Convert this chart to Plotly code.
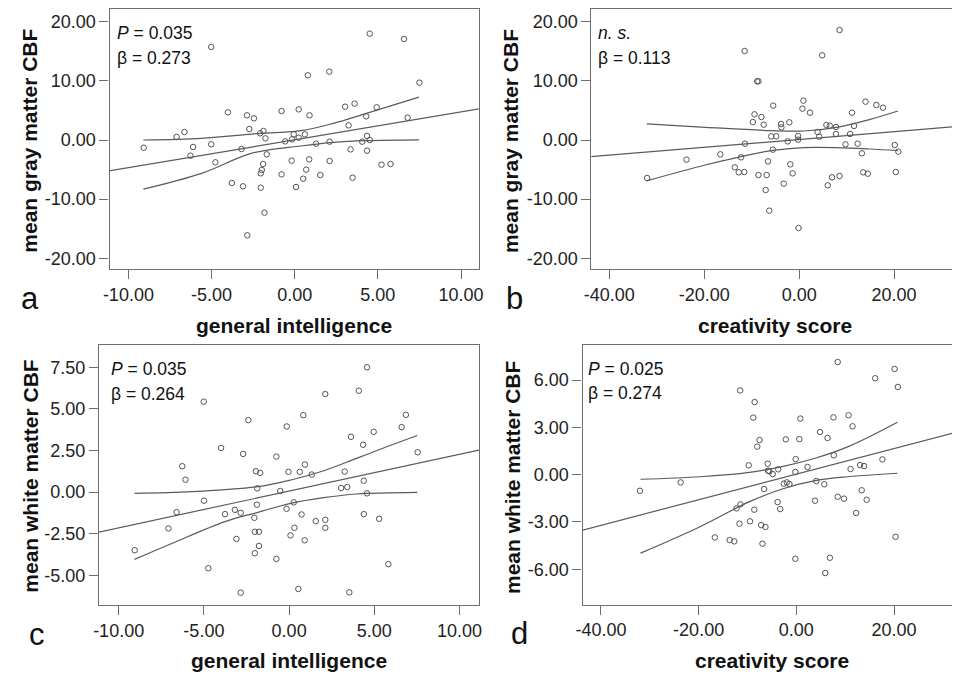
import plotly.graph_objects as go

# ---------------- data ----------------
# Panel a: general intelligence vs mean gray matter CBF
a_x = [-9.08, -7.10, -6.63, -6.27, -6.11, -5.02, -5.02, -4.77, -4.02, -3.78, -3.20, -3.11,
       -2.87, -2.85, -2.73, -2.45, -2.08, -1.88, -2.04, -1.98, -1.90, -2.04, -1.76, -1.68,
       -1.82, -0.79, -0.79, -0.57, -0.18, -0.16, -0.06, 0.08, 0.24, 0.24, 0.51, 0.61, 0.69,
       0.79, 0.87, 0.89, 1.29, 1.54, 2.08, 2.10, 2.10, 3.03, 3.24, 3.36, 3.48, 3.60, 4.06,
       4.30, 4.35, 4.35, 4.51, 4.51, 4.93, 5.22, 5.76, 6.57, 6.79, 7.50]
a_y = [-1.30, 0.51, 1.35, -2.65, -1.18, 15.72, -0.73, -3.77, 4.68, -7.27, -1.52, -7.83,
       4.17, -16.11, 1.86, 3.66, 1.13, 1.52, -5.63, -5.07, -4.06, -8.06, 0.28, -2.42,
       -12.28, 4.90, -5.80, -0.23, -3.49, 0.11, 0.96, -7.94, 0.39, 5.18, -6.54, 0.96, -5.01,
       10.93, -3.27, 4.17, -0.62, -5.92, 11.55, -0.28, -3.55, 5.63, 2.48, -1.58, -6.37, 6.14,
       -0.28, 4.00, 0.68, -1.80, 17.97, 0.00, 5.52, -4.17, -4.06, 17.07, 3.77, 9.69]
a_fit_x = [-11.2, 11.2]
a_fit_y = [-5.25, 5.32]
a_up_x = [-9.1, -5.6, -2.6, 0.36, 2.33, 4.31, 7.47]
a_up_y = [0.00, 0.28, 1.01, 1.58, 2.82, 4.51, 7.25]
a_lo_x = [-9.1, -5.6, -2.6, 0.36, 2.33, 4.31, 7.47]
a_lo_y = [-8.30, -5.63, -2.25, -1.01, -0.39, -0.11, 0.02]

# Panel b: creativity score vs mean gray matter CBF
b_x = [-32.04, -23.74, -16.61, -13.56, -12.73, -12.25, -11.56, -11.42, -11.49, -9.76, -9.41,
       -8.86, -8.58, -8.58, -7.96, -7.47, -7.06, -6.85, -6.57, -6.30, -5.88, -5.54, -5.47,
       -4.84, -3.81, -3.74, -3.25, -2.42, -2.08, -1.87, -1.38, -0.21, -0.21, -0.14, 0.69,
       0.90, 2.28, 3.88, 4.22, 4.84, 5.74, 6.02, 6.44, 6.92, 7.75, 7.75, 8.51, 8.51, 9.76,
       10.73, 11.14, 11.56, 12.32, 13.22, 13.49, 13.98, 14.46, 16.26, 17.65, 20.14, 20.35, 20.90]
b_y = [-6.42, -3.32, -2.42, -4.62, -5.46, -2.93, -5.41, -0.62, 15.04, 3.04, 4.34,
       9.92, 9.92, -5.92, 3.89, 2.59, -8.45, -5.92, -3.61, -11.94, 0.62, -1.63, 5.80,
       0.62, 2.70, 2.14, -7.38, -0.23, 2.99, -4.11, -5.63, 0.68, 0.06, -14.87, 5.30,
       6.65, 4.62, 1.35, 0.56, 14.31, 2.54, -7.66, 2.42, -6.31, 2.20, 1.01, 18.59, -6.08, -0.73,
       1.01, 4.62, 2.37, -0.62, -2.25, -5.46, 6.48, -5.69, 5.92, 5.46, -0.85, -5.41, -1.97]
b_fit_x = [-44.0, 32.5]
b_fit_y = [-2.82, 2.24]
b_up_x = [-32.1, -19.8, -5.96, 0.97, 7.9, 14.8, 20.8]
b_up_y = [2.72, 2.15, 1.58, 1.52, 2.15, 3.45, 4.90]
b_lo_x = [-32.1, -19.8, -12.9, -5.96, 0.97, 7.9, 14.8, 20.8]
b_lo_y = [-6.90, -4.23, -2.93, -1.80, -1.29, -1.29, -1.52, -1.80]

# Panel c: general intelligence vs mean white matter CBF
c_x = [-9.06, -7.08, -6.60, -6.27, -6.08, -5.01, -4.99, -4.74, -3.99, -3.76, -3.18, -3.09,
       -2.84, -2.84, -2.70, -2.39, -2.04, -2.01, -2.01, -1.95, -1.89, -1.87, -1.77, -1.77,
       -1.70, -0.75, -0.75, -0.52, -0.15, -0.14, -0.04, 0.08, 0.27, 0.31, 0.54, 0.62, 0.73,
       0.83, 0.91, 0.93, 1.33, 1.56, 2.12, 2.12, 2.12, 3.05, 3.26, 3.41, 3.53, 3.63, 4.09,
       4.34, 4.38, 4.38, 4.57, 4.57, 4.96, 5.28, 5.82, 6.60, 6.85, 7.54]
c_y = [-3.50, -2.19, -1.21, 1.55, 0.74, 5.43, -0.52, -4.58, 2.65, -1.33, -1.07, -2.82,
       -1.25, -6.05, 2.29, 4.32, -1.55, -2.39, -3.68, 1.25, -0.76, 0.22, -2.39, -3.24,
       1.15, 2.13, -4.02, 0.06, -1.01, 3.94, 1.21, -2.61, -0.62, -2.15, -5.83, 1.21, -1.35,
       4.62, -2.90, 1.65, 1.05, -1.75, 5.89, -1.67, -2.15, 0.24, 1.23, 0.30, -6.03, 3.32, 6.09,
       2.84, 0.68, -1.33, 7.50, -0.08, 3.62, -1.61, -4.34, 3.90, 4.64, 2.39]
c_fit_x = [-11.2, 11.2]
c_fit_y = [-2.42, 2.53]
c_up_x = [-9.07, -5.69, -1.83, 0.10, 2.03, 3.95, 5.88, 7.52]
c_up_y = [-0.08, 0.02, 0.32, 0.72, 1.28, 2.02, 2.78, 3.40]
c_lo_x = [-9.07, -6.85, -3.76, -1.83, 0.10, 2.03, 3.95, 7.52]
c_lo_y = [-4.05, -3.08, -1.78, -1.22, -0.68, -0.34, -0.12, -0.02]

# Panel d: creativity score vs mean white matter CBF
d_x = [-32.01, -23.67, -16.68, -13.65, -12.71, -12.24, -11.63, -11.50, -11.43, -9.75, -9.48,
       -8.81, -8.54, -8.61, -8.00, -7.53, -7.20, -6.93, -6.59, -6.32, -5.85, -5.78, -5.51,
       -4.84, -3.83, -3.70, -3.30, -2.56, -2.15, -1.95, -1.41, -0.20, -0.20, -0.13, 0.61,
       0.81, 2.29, 3.83, 4.10, 4.84, 5.72, 5.92, 6.39, 6.86, 7.60, 7.67, 8.47, 8.47, 9.75,
       10.69, 11.10, 11.50, 12.24, 13.05, 13.38, 13.85, 14.39, 16.14, 17.62, 20.11, 20.31, 20.78]
d_y = [-1.02, -0.49, -3.98, -4.15, -4.23, -2.14, -3.11, 5.35, -1.88, 0.59, -2.96,
       3.62, 4.61, -2.22, 1.78, 2.20, -3.20, -4.38, -0.91, -3.32, 0.70, 0.25, 0.21,
       0.04, -1.74, 0.34, -2.18, -0.57, 2.24, -0.49, -0.59, -5.33, 0.17, 0.99, 2.26,
       3.56, 0.49, -1.65, -0.40, 2.71, -0.61, -6.24, 2.33, -5.27, 3.64, 1.23, 7.15, -1.40, -1.52,
       3.77, 0.36, 3.07, -2.43, 0.61, -0.99, 0.55, -1.59, 6.12, 0.97, 6.71, -3.94, 5.57]
d_fit_x = [-44.0, 32.0]
d_fit_y = [-3.54, 2.64]
d_up_x = [-31.9, -19.7, -9.6, -2.9, 3.83, 10.6, 20.7]
d_up_y = [-0.29, -0.13, 0.15, 0.51, 1.04, 1.78, 3.33]
d_lo_x = [-31.9, -19.7, -9.6, -2.9, 3.83, 10.6, 20.7]
d_lo_y = [-4.98, -3.30, -1.71, -0.91, -0.38, -0.13, 0.09]

# tick labels
gi_ticks = [-10, -5, 0, 5, 10]
gi_text = ["-10.00", "-5.00", "0.00", "5.00", "10.00"]
cs_ticks = [-40, -20, 0, 20]
cs_text = ["-40.00", "-20.00", "0.00", "20.00"]
gm_ticks = [20, 10, 0, -10, -20]
gm_text = ["20.00", "10.00", "0.00", "-10.00", "-20.00"]
wmc_ticks = [7.5, 5, 2.5, 0, -2.5, -5]
wmc_text = ["7.50", "5.00", "2.50", "0.00", "-2.50", "-5.00"]
wmd_ticks = [6, 3, 0, -3, -6]
wmd_text = ["6.00", "3.00", "0.00", "-3.00", "-6.00"]

stats_a = ["<i>P</i> = 0.035", "β = 0.273"]
stats_b = ["<i>n. s.</i>", "β = 0.113"]
stats_c = ["<i>P</i> = 0.035", "β = 0.264"]
stats_d = ["<i>P</i> = 0.025", "β = 0.274"]

# ---------------- figure ----------------
W, H = 957, 674
def px(x):
    return x / W
def py(y):
    return 1 - y / H

FONT = "Liberation Sans, Arial, sans-serif"
MK = "#555555"
LN = "#5a5a5a"
FR = "#6e6e6e"

fig = go.Figure()

panels = [
    ("1", a_x, a_y, (a_fit_x, a_fit_y), (a_up_x, a_up_y), (a_lo_x, a_lo_y),
     (103, 477.3, 9, 269.3), [-11.13, 11.07], [-21.85, 22.14], (gi_ticks, gi_text), (gm_ticks, gm_text), True),
    ("2", b_x, b_y, (b_fit_x, b_fit_y), (b_up_x, b_up_y), (b_lo_x, b_lo_y),
     (591.5, 957, 9, 269.3), [-43.76, 32.2], [-21.85, 22.14], (cs_ticks, cs_text), (gm_ticks, gm_text), False),
    ("3", c_x, c_y, (c_fit_x, c_fit_y), (c_up_x, c_up_y), (c_lo_x, c_lo_y),
     (92.3, 477.7, 345.3, 605.3), [-11.15, 11.15], [-6.81, 8.82], (gi_ticks, gi_text), (wmc_ticks, wmc_text), True),
    ("4", d_x, d_y, (d_fit_x, d_fit_y), (d_up_x, d_up_y), (d_lo_x, d_lo_y),
     (582.5, 957, 345, 604.7), [-43.75, 31.86], [-8.25, 8.23], (cs_ticks, cs_text), (wmd_ticks, wmd_text), False),
]

for name, xs, ys, fit, up, lo, frame, xr, yr, xt, yt, mir in panels:
    xa = "x" if name == "1" else "x" + name
    ya = "y" if name == "1" else "y" + name
    for (lx, lyy), shape in ((fit, "linear"), (up, "spline"), (lo, "spline")):
        fig.add_trace(go.Scatter(x=lx, y=lyy, mode="lines", xaxis=xa, yaxis=ya,
                                 line=dict(color=LN, width=1.2, shape=shape),
                                 hoverinfo="skip", showlegend=False))
    fig.add_trace(go.Scatter(x=xs, y=ys, mode="markers", xaxis=xa, yaxis=ya,
                             marker=dict(symbol="circle-open", size=5.5, color=MK,
                                         line=dict(width=1, color=MK)),
                             showlegend=False))
    l, r, t, b = frame
    xkey = "xaxis" if name == "1" else "xaxis" + name
    ykey = "yaxis" if name == "1" else "yaxis" + name
    fig.update_layout(**{
        xkey: dict(domain=[px(l), min(px(r), 1.0)], range=xr, anchor=ya,
                   tickmode="array", tickvals=xt[0], ticktext=xt[1],
                   ticks="outside", ticklen=9, tickwidth=1, tickcolor=FR,
                   showline=True, linecolor=FR, linewidth=1.3, mirror=True,
                   showgrid=False, zeroline=False,
                   tickfont=dict(family=FONT, size=18, color="#222222")),
        ykey: dict(domain=[py(b), py(t)], range=yr, anchor=xa,
                   tickmode="array", tickvals=yt[0], ticktext=yt[1],
                   ticks="outside", ticklen=9, tickwidth=1, tickcolor=FR,
                   showline=True, linecolor=FR, linewidth=1.3, mirror=mir,
                   showgrid=False, zeroline=False,
                   tickfont=dict(family=FONT, size=18, color="#222222")),
    })

ann = []
def text(x, y, s, size, bold=False, angle=0, xanchor="center"):
    ann.append(dict(x=px(x), y=py(y), xref="paper", yref="paper", text=("<b>%s</b>" % s) if bold else s,
                    showarrow=False, textangle=angle, xanchor=xanchor, yanchor="middle",
                    font=dict(family=FONT, size=size, color="#111111")))

for (lx, y1, y2), st in (((108, 33, 58), stats_a), ((596.5, 33, 58), stats_b),
                         ((102.5, 369, 394), stats_c), ((585.5, 369, 393), stats_d)):
    text(lx, y1, st[0], 17.5, xanchor="left")
    text(lx, y2, st[1], 17.5, xanchor="left")

text(22, 141, "mean gray matter CBF", 21, bold=True, angle=-90)
text(510, 141, "mean gray matter CBF", 21, bold=True, angle=-90)
text(22, 476, "mean white matter CBF", 21, bold=True, angle=-90)
text(512, 477, "mean white matter CBF", 21, bold=True, angle=-90)
text(290, 325, "general intelligence", 21, bold=True)
text(778, 325, "creativity score", 21, bold=True)
text(285, 660, "general intelligence", 21, bold=True)
text(775, 660, "creativity score", 21, bold=True)

text(22, 298, "a", 31)
text(513, 298, "b", 31)
text(29, 634, "c", 31)
text(519, 633, "d", 31)

fig.update_layout(width=W, height=H, margin=dict(l=0, r=0, t=0, b=0),
                  paper_bgcolor="white", plot_bgcolor="white", annotations=ann,
                  showlegend=False)

fig.write_html("out.html", config={"displayModeBar": False},
               post_script="document.body.style.margin='0';document.body.style.overflow='hidden';")
